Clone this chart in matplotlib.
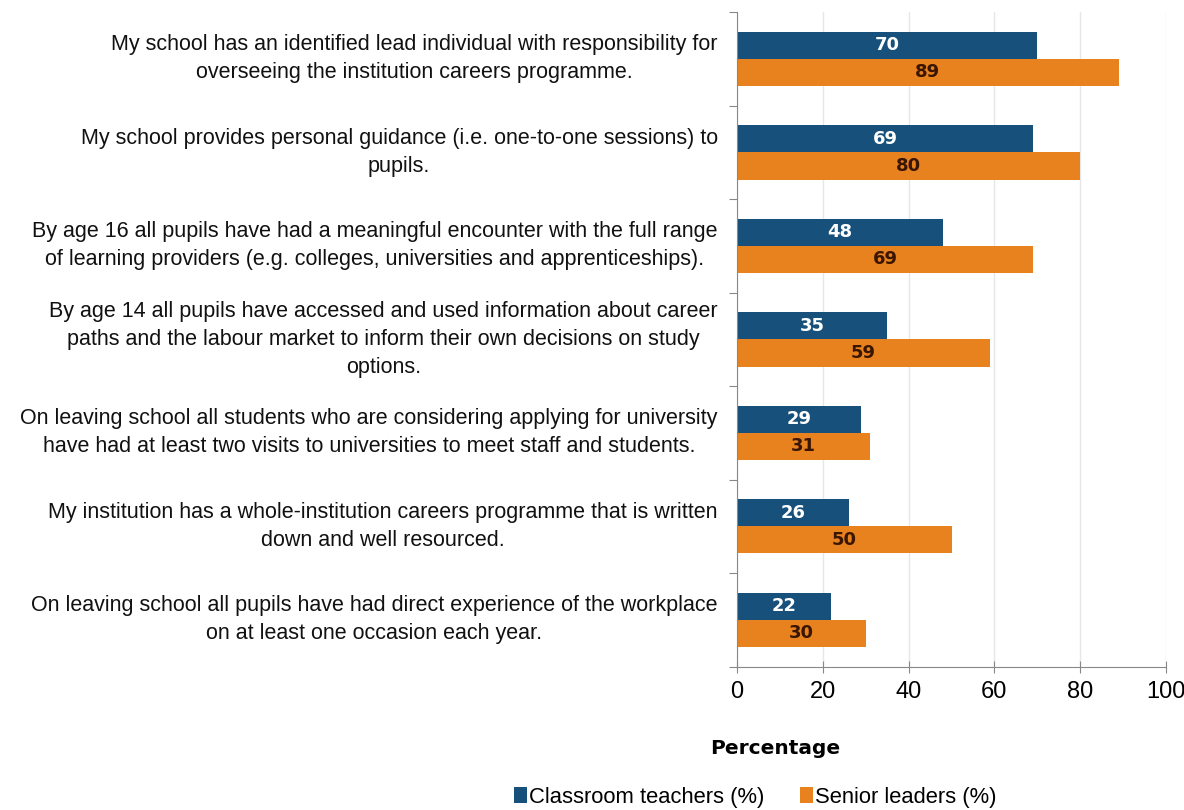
import matplotlib
matplotlib.use("Agg")
import matplotlib.pyplot as plt
from matplotlib import font_manager
import numpy as np

categories = [
    "My school has an identified lead individual with responsibility for\noverseeing the institution careers programme.",
    "My school provides personal guidance (i.e. one-to-one sessions) to\npupils.",
    "By age 16 all pupils have had a meaningful encounter with the full range\nof learning providers (e.g. colleges, universities and apprenticeships).",
    "By age 14 all pupils have accessed and used information about career\npaths and the labour market to inform their own decisions on study\noptions.",
    "On leaving school all students who are considering applying for university\nhave had at least two visits to universities to meet staff and students.",
    "My institution has a whole-institution careers programme that is written\ndown and well resourced.",
    "On leaving school all pupils have had direct experience of the workplace\non at least one occasion each year.",
]
teachers = [70, 69, 48, 35, 29, 26, 22]
leaders = [89, 80, 69, 59, 31, 50, 30]
series_names = ["Classroom teachers (%)", "Senior leaders (%)"]
xticks = [0, 20, 40, 60, 80, 100]

names = {f.name for f in font_manager.fontManager.ttflist}
fam = "Liberation Sans Narrow" if "Liberation Sans Narrow" in names else "Liberation Sans"
plt.rcParams["font.family"] = [fam, "DejaVu Sans"]

blue = "#17507a"
orange = "#e8821e"

fig = plt.figure(figsize=(11.84, 8.10), dpi=100)
ax = fig.add_axes([0.6225, 0.177, 0.3623, 0.808])

y = np.arange(len(categories))
h = 0.29
b1 = ax.barh(y - h / 2, teachers, height=h, color=blue, label=series_names[0])
b2 = ax.barh(y + h / 2, leaders, height=h, color=orange, label=series_names[1])
for rect, v in zip(b1, teachers):
    ax.text(rect.get_width() / 2, rect.get_y() + rect.get_height() / 2, str(v),
            ha="center", va="center", color="white", fontsize=13, fontweight="bold",
            family=["DejaVu Sans"])
for rect, v in zip(b2, leaders):
    ax.text(rect.get_width() / 2, rect.get_y() + rect.get_height() / 2, str(v),
            ha="center", va="center", color="#3a1500", fontsize=13, fontweight="bold",
            family=["DejaVu Sans"])

ax.set_ylim(len(categories) - 0.5, -0.5)
ax.set_xlim(0, 100)
ax.set_xticks(xticks)
ax.set_xticklabels([str(t) for t in xticks], fontsize=17)
ax.tick_params(axis="x", length=8, direction="inout", color="#888888", pad=6)
ax.set_yticks(np.arange(-0.5, len(categories) + 0.5, 1.0))
ax.set_yticklabels([])
ax.tick_params(axis="y", length=6, direction="out", color="#888888")
for i, c in enumerate(categories):
    ax.text(-0.045, i, c, transform=ax.get_yaxis_transform(), ha="right", va="center",
            multialignment="center", fontsize=15.5, color="#111111", linespacing=1.45)

ax.grid(axis="x", color="#e6e6e6", linewidth=1)
ax.set_axisbelow(True)
for s in ["top", "right"]:
    ax.spines[s].set_visible(False)
ax.spines["left"].set_color("#888888")
ax.spines["bottom"].set_color("#888888")

fig.text(0.655, 0.076, "Percentage", ha="center", va="center", fontsize=14.5,
         fontweight="bold", family=["DejaVu Sans"])
fig.legend(handles=[b1, b2], labels=series_names, loc="center", bbox_to_anchor=(0.638, 0.016),
           ncol=2, frameon=False, fontsize=15.8, handlelength=0.6, handleheight=0.8,
           handletextpad=0.1, columnspacing=1.6)

fig.savefig("out.png", dpi=100, facecolor="white")
